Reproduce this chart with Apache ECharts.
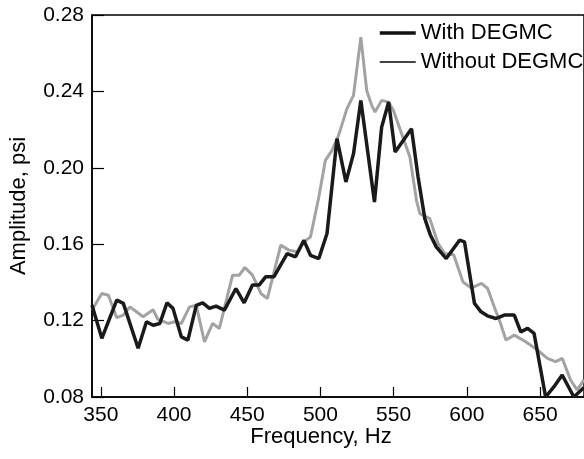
<!DOCTYPE html>
<html>
<head>
<meta charset="utf-8">
<script src="https://cdn.jsdelivr.net/npm/echarts@6/dist/echarts.min.js"></script>
<style>
html,body{margin:0;padding:0;background:#fff;}
#chart{width:584px;height:459px;}
</style>
</head>
<body>
<div id="chart"></div>
<script>
// Frequency (Hz) and amplitude (psi)
const freqWith = [344, 350.7, 360.9, 365.4, 375.5, 381.2, 385.7, 390.3, 395.2, 399.3, 405, 409.5, 415.2, 419.6, 424.2, 428.7, 434.4, 442.3, 447.9, 453.6, 458.1, 462.7, 468.3, 477.3, 483, 488.7, 493.2, 498.9, 504.5, 511.3, 517.4, 522.6, 527.6, 536.9, 541.8, 546.6, 551, 562.2, 566.7, 571.3, 575, 579.1, 585.9, 595, 598.4, 605.2, 609.7, 614, 619.9, 625.6, 632.4, 636.8, 641.5, 645.9, 653.8, 659.5, 665.1, 673.1, 680];
const ampWith = [0.128, 0.1107, 0.1307, 0.129, 0.1055, 0.1194, 0.1176, 0.1185, 0.1293, 0.1264, 0.1115, 0.1098, 0.128, 0.1293, 0.1264, 0.1276, 0.1255, 0.1368, 0.1293, 0.1386, 0.1386, 0.143, 0.143, 0.1551, 0.1534, 0.162, 0.1542, 0.1525, 0.1656, 0.2153, 0.1926, 0.2074, 0.2353, 0.1821, 0.2213, 0.2344, 0.2083, 0.2205, 0.1952, 0.1734, 0.165, 0.1586, 0.1525, 0.1621, 0.1612, 0.129, 0.1246, 0.1225, 0.1211, 0.1229, 0.1229, 0.1141, 0.1159, 0.1133, 0.0800, 0.0854, 0.0915, 0.0800, 0.0850];

const freqWithout = [344, 350.7, 355.2, 360.9, 365.4, 369.9, 374.4, 378.9, 385.7, 389, 395.9, 400.4, 405, 410.6, 415.2, 420.8, 426.4, 431, 440, 444.6, 448.4, 453.6, 459.3, 463.8, 472.9, 478.5, 484.1, 488.7, 493.2, 498.9, 503.4, 507.9, 512.4, 518.1, 522.6, 527.6, 531.6, 535, 537.3, 541.8, 546.4, 549.8, 555.4, 561.1, 565.6, 567.9, 574.7, 580.3, 584.8, 591, 597.3, 603, 610, 614.2, 618.8, 622.2, 626.7, 632.4, 640.2, 648.2, 655, 660.6, 665.2, 670.8, 675.3, 680];
const ampWithout = [0.1255, 0.1342, 0.1333, 0.1215, 0.1229, 0.1272, 0.1246, 0.122, 0.1257, 0.1207, 0.1185, 0.1194, 0.1185, 0.1272, 0.128, 0.1089, 0.1185, 0.1159, 0.1438, 0.1438, 0.1478, 0.1438, 0.1342, 0.1316, 0.1595, 0.1569, 0.156, 0.1612, 0.1638, 0.1847, 0.2039, 0.2091, 0.217, 0.231, 0.2379, 0.2684, 0.2405, 0.2327, 0.2292, 0.2353, 0.2344, 0.2301, 0.2179, 0.2057, 0.183, 0.176, 0.1734, 0.1604, 0.1551, 0.1545, 0.1403, 0.137, 0.1395, 0.1368, 0.127, 0.1203, 0.1098, 0.1124, 0.1089, 0.1046, 0.1002, 0.0985, 0.1002, 0.0889, 0.0837, 0.0890];

const seriesNames = ['With DEGMC', 'Without DEGMC'];
const xTitle = 'Frequency, Hz';
const yTitle = 'Amplitude, psi';

const pair = (xs, ys) => xs.map((x, i) => [x, ys[i]]);
const FONT = '"Liberation Sans", Arial, sans-serif';

const chart = echarts.init(document.getElementById('chart'), null, {renderer: 'canvas'});
chart.setOption({
  animation: false,
  backgroundColor: '#fff',
  grid: {
    left: 92, top: 15, right: -3, bottom: 62,
    show: true, borderColor: '#000', borderWidth: 1.5, backgroundColor: 'transparent'
  },
  xAxis: {
    type: 'value', min: 344, max: 680,
    axisLine: {show: true, lineStyle: {color: '#000', width: 1.5}},
    axisTick: {show: true, inside: true, length: 10, lineStyle: {color: '#000', width: 1.2}},
    axisLabel: {showMinLabel: false, showMaxLabel: false, color: '#000', fontSize: 21, fontFamily: FONT, margin: 8},
    splitLine: {show: false}
  },
  yAxis: {
    type: 'value', min: 0.08, max: 0.28, interval: 0.04,
    axisLine: {show: true, lineStyle: {color: '#000', width: 1.5}},
    axisTick: {show: true, inside: true, length: 12, lineStyle: {color: '#000', width: 1.2}},
    axisLabel: {color: '#000', fontSize: 21, fontFamily: FONT, margin: 8, formatter: v => v.toFixed(2)},
    splitLine: {show: false}
  },
  legend: {
    orient: 'vertical', left: 378, top: 22, padding: 0,
    itemWidth: 36, itemHeight: 14, itemGap: 7,
    textStyle: {color: '#000', fontSize: 22, fontFamily: FONT},
    itemStyle: {opacity: 0},
    data: [
      {name: seriesNames[0], lineStyle: {color: '#111', width: 3.5}, itemStyle: {opacity: 0}},
      {name: seriesNames[1], lineStyle: {color: '#444', width: 2}, itemStyle: {opacity: 0}}
    ]
  },
  graphic: [
    {type: 'text', x: 321, y: 437, style: {text: xTitle, fill: '#000', font: '22px ' + FONT, align: 'center', verticalAlign: 'middle'}},
    {type: 'text', x: 19, y: 206, rotation: Math.PI / 2, style: {text: yTitle, fill: '#000', font: '22px ' + FONT, align: 'center', verticalAlign: 'middle'}}
  ],
  series: [
    {name: seriesNames[0], type: 'line', symbol: 'none', z: 3, clip: true,
     lineStyle: {color: '#1a1a1a', width: 3.5}, itemStyle: {color: '#1a1a1a'},
     data: pair(freqWith, ampWith)},
    {name: seriesNames[1], type: 'line', symbol: 'none', z: 2, clip: true,
     lineStyle: {color: '#a3a3a3', width: 3}, itemStyle: {color: '#a3a3a3'},
     data: pair(freqWithout, ampWithout)}
  ]
});
</script>
</body>
</html>
